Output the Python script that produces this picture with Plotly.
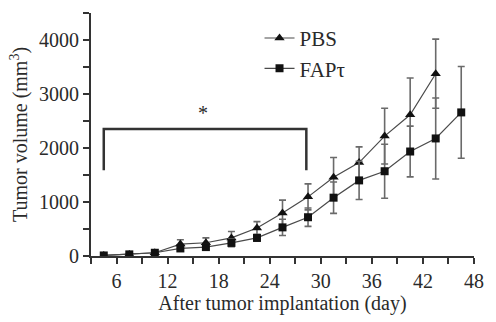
import plotly.graph_objects as go

# Days after tumor implantation
days_pbs = [4.5, 7.5, 10.5, 13.5, 16.5, 19.5, 22.5, 25.5, 28.5, 31.5, 34.5, 37.5, 40.5, 43.5]
days_fap = [4.5, 7.5, 10.5, 13.5, 16.5, 19.5, 22.5, 25.5, 28.5, 31.5, 34.5, 37.5, 40.5, 43.5, 46.5]

# Tumor volume (mm^3), mean and error
pbs_mean = [10, 30, 60, 220, 245, 335, 517, 795, 1095, 1460, 1730, 2220, 2615, 3376]
pbs_err = [10, 15, 20, 80, 90, 120, 120, 240, 240, 365, 290, 517, 682, 640]
fap_mean = [10, 30, 60, 140, 165, 243, 335, 530, 718, 1080, 1400, 1570, 1935, 2177, 2659]
fap_err = [10, 10, 15, 40, 50, 70, 60, 150, 170, 290, 354, 500, 470, 750, 850]

x_ticks = [6, 12, 18, 24, 30, 36, 42, 48]
y_ticks = [0, 1000, 2000, 3000, 4000]

# Significance bracket
bracket_days = (4.5, 28.3)
bracket_top = 2350
bracket_bottom = 1590
star_day = 16.1
star_value = 2640

FONT = "Liberation Serif, Times New Roman, serif"
INK = "#2a2a2a"
LINE = "#4a4a4a"
BAR = "#6a6a6a"

fig = go.Figure()

fig.add_trace(go.Scatter(
    x=days_pbs, y=pbs_mean, name="PBS", mode="lines+markers",
    line=dict(color=LINE, width=1.2),
    marker=dict(symbol="triangle-up", size=9, color="#111"),
    error_y=dict(type="data", array=pbs_err, color=BAR, thickness=1.6, width=3.5),
))
fig.add_trace(go.Scatter(
    x=days_fap, y=fap_mean, name="FAPτ", mode="lines+markers",
    line=dict(color=LINE, width=1.2),
    marker=dict(symbol="square", size=8, color="#111"),
    error_y=dict(type="data", array=fap_err, color=BAR, thickness=1.6, width=3.5),
))

fig.add_shape(
    type="path", xref="x", yref="y",
    path=(f"M {bracket_days[0]} {bracket_bottom} L {bracket_days[0]} {bracket_top} "
          f"L {bracket_days[1]} {bracket_top} L {bracket_days[1]} {bracket_bottom}"),
    line=dict(color="#333", width=2.5),
)
fig.add_annotation(x=star_day, y=star_value, text="*", showarrow=False,
                   font=dict(family=FONT, size=20, color=INK))

fig.update_layout(
    width=496, height=322,
    margin=dict(l=91, r=21, t=13, b=62),
    paper_bgcolor="white", plot_bgcolor="white",
    font=dict(family=FONT, size=20, color=INK),
    showlegend=True,
    legend=dict(x=0.44, y=0.98, xanchor="left", yanchor="top",
                bgcolor="rgba(0,0,0,0)", font=dict(size=21),
                itemwidth=30, tracegroupgap=0),
    xaxis=dict(
        range=[3, 48], tickvals=x_ticks, ticktext=[str(v) for v in x_ticks],
        showgrid=False, zeroline=False, showline=True, linecolor="#333", linewidth=2,
        ticks="outside", ticklen=6, tickwidth=2, tickcolor="#333",
        minor=dict(dtick=3, tick0=0, ticks="outside", ticklen=6, tickwidth=2, tickcolor="#333"),
        title=dict(text="After tumor implantation (day)", standoff=4,
                   font=dict(size=20)),
        tickfont=dict(size=20),
    ),
    yaxis=dict(
        range=[0, 4500], tickvals=y_ticks, ticktext=[str(v) for v in y_ticks],
        showgrid=False, zeroline=False, showline=True, linecolor="#333", linewidth=2,
        ticks="outside", ticklen=6, tickwidth=2, tickcolor="#333",
        minor=dict(dtick=500, tick0=0, ticks="outside", ticklen=6, tickwidth=2, tickcolor="#333"),
        title=dict(text="Tumor volume (mm<sup>3</sup>)", standoff=6, font=dict(size=20)),
        tickfont=dict(size=20),
    ),
)

fig.write_html("out.html")
